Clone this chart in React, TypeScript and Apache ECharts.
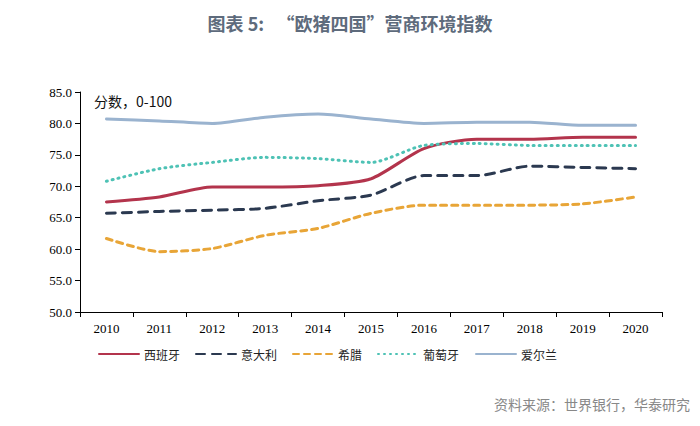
import React, { useEffect, useRef } from "react";
import * as echarts from "echarts";

const years = ["2010", "2011", "2012", "2013", "2014", "2015", "2016", "2017", "2018", "2019", "2020"];
const spain = [67.5, 68.3, 69.9, 69.9, 70.1, 71.2, 76.0, 77.5, 77.5, 77.8, 77.8];
const italy = [65.7, 66.0, 66.2, 66.5, 67.7, 68.6, 71.7, 71.7, 73.2, 73.0, 72.8];
const greece = [61.7, 59.6, 60.1, 62.2, 63.3, 65.7, 67.0, 67.0, 67.0, 67.2, 68.3];
const portugal = [70.8, 72.8, 73.8, 74.6, 74.4, 73.8, 76.5, 76.8, 76.5, 76.5, 76.5];
const ireland = [80.7, 80.4, 80.0, 81.0, 81.5, 80.7, 80.0, 80.2, 80.2, 79.7, 79.7];
const seriesNames = ["西班牙", "意大利", "希腊", "葡萄牙", "爱尔兰"];

export default function App() {
  const ref = useRef<HTMLDivElement>(null);
  useEffect(() => {
    const chart = echarts.init(ref.current!, null, { renderer: "svg" });
    const mk = (name: string, data: number[], color: string, type: any, width: number) => ({
      name,
      type: "line",
      data,
      smooth: 0.25,
      symbol: "none",
      lineStyle: { color, width, type, cap: "round" },
      itemStyle: { color },
    });
    const legendLefts = [93, 190, 287, 372, 470];
    chart.setOption({
      animation: false,
      backgroundColor: "#fff",
      title: {
        text: "图表 5:   “欧猪四国”营商环境指数",
        left: "center",
        top: 9,
        textStyle: { fontFamily: "Noto Sans CJK SC", fontSize: 18, fontWeight: "bold", color: "#5E6B7C" },
      },
      grid: { left: 80, right: 38, top: 92, bottom: 114 },
      legend: seriesNames.map((n, i) => ({
        data: [n],
        left: legendLefts[i],
        top: 343,
        itemWidth: 40,
        itemHeight: 10,
        itemGap: 4,
        itemStyle: { opacity: 0 },
        textStyle: { fontFamily: "Noto Sans CJK SC", fontSize: 12, color: "#222" },
      })),
      xAxis: {
        type: "category",
        data: years,
        boundaryGap: true,
        axisLine: { lineStyle: { color: "#000", width: 1 } },
        axisTick: { show: true, length: 5, inside: false, lineStyle: { color: "#000" } },
        axisLabel: { fontFamily: "Liberation Serif", fontSize: 13, color: "#000", margin: 10 },
      },
      yAxis: {
        type: "value",
        min: 50,
        max: 85,
        interval: 5,
        axisLine: { show: true, lineStyle: { color: "#000", width: 1 } },
        axisTick: { show: true, length: 5, lineStyle: { color: "#000" } },
        splitLine: { show: false },
        axisLabel: {
          fontFamily: "Liberation Serif",
          fontSize: 13,
          color: "#000",
          margin: 8,
          formatter: (v: number) => v.toFixed(1),
        },
      },
      graphic: [
        {
          type: "text",
          left: 94,
          top: 94,
          style: { text: "分数，0-100", fontFamily: "Noto Sans CJK SC", fontSize: 14, fill: "#111" },
        },
        {
          type: "text",
          right: 10,
          top: 397,
          style: { text: "资料来源：世界银行，华泰研究", fontFamily: "Noto Sans CJK SC", fontSize: 14, fill: "#888" },
        },
      ],
      series: [
        mk(seriesNames[0], spain, "#B3344C", "solid", 3),
        mk(seriesNames[1], italy, "#2B3950", [9, 7], 3),
        mk(seriesNames[2], greece, "#E8A537", [6, 5], 3),
        mk(seriesNames[3], portugal, "#4EC2B5", [1, 5], 3),
        mk(seriesNames[4], ireland, "#9AB3CF", "solid", 3),
      ],
    });
    return () => chart.dispose();
  }, []);
  return <div ref={ref} style={{ width: 700, height: 426, margin: -8 }} />;
}
